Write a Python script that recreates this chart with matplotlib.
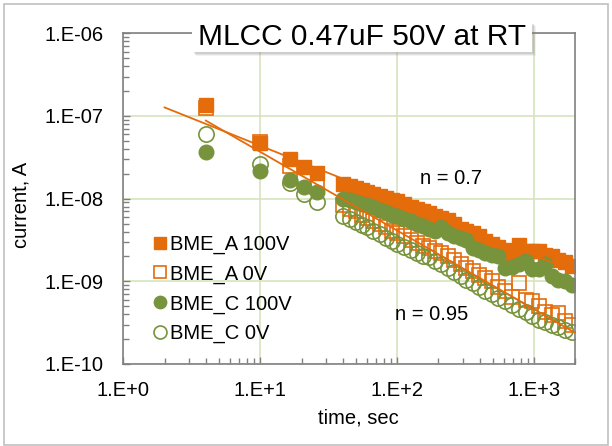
import numpy as np
import matplotlib.pyplot as plt
from matplotlib.patches import Rectangle

plt.rcParams['font.family'] = ['Liberation Sans', 'DejaVu Sans']

# time points, sec
t_early = [4, 10, 16.5, 21, 26]
t_dense = [40, 45, 50, 55, 60, 67, 75, 83, 92, 100, 112, 125, 140, 155, 170,
           190, 210, 235, 260, 290, 320, 355, 395, 440, 490, 545, 610, 690,
           780, 870, 970, 1080, 1200, 1340, 1500, 1680, 1880]
time = t_early + t_dense

# current, A
bme_a_100 = [1.36e-7, 4.7e-8, 3.0e-8, 2.44e-8, 2.03e-8,
             1.50e-8, 1.42e-8, 1.35e-8, 1.28e-8, 1.22e-8, 1.15e-8, 1.08e-8, 1.02e-8,
             9.6e-9, 9.3e-9, 8.6e-9, 8.0e-9, 7.6e-9, 7.1e-9, 6.7e-9, 6.2e-9, 5.9e-9,
             5.5e-9, 5.0e-9, 4.3e-9, 4.1e-9, 3.8e-9, 3.5e-9, 3.1e-9, 2.8e-9, 2.6e-9,
             2.4e-9, 2.15e-9, 2.75e-9, 2.3e-9, 2.35e-9, 2.3e-9, 2.1e-9, 2.0e-9,
             1.8e-9, 1.7e-9, 1.55e-9]
bme_a_0 = [1.24e-7, 4.9e-8, 2.5e-8, 1.71e-8, 1.37e-8,
           8.4e-9, 7.6e-9, 7.0e-9, 6.4e-9, 5.9e-9, 5.4e-9, 4.9e-9, 4.5e-9,
           4.1e-9, 3.8e-9, 3.5e-9, 3.2e-9, 2.9e-9, 2.7e-9, 2.5e-9, 2.35e-9, 2.2e-9,
           2.0e-9, 1.8e-9, 1.6e-9, 1.45e-9, 1.35e-9, 1.2e-9, 1.1e-9, 1.0e-9, 8.5e-10,
           7.6e-10, 6.5e-10, 9.5e-10, 6.0e-10, 5.8e-10, 5.0e-10, 4.3e-10, 3.9e-10,
           4.1e-10, 3.3e-10, 3.0e-10]
bme_c_100 = [3.67e-8, 2.14e-8, 1.66e-8, 1.37e-8, 1.2e-8,
             1.0e-8, 9.5e-9, 9.1e-9, 8.7e-9, 8.4e-9, 7.9e-9, 7.3e-9, 6.9e-9,
             6.4e-9, 6.1e-9, 5.7e-9, 5.4e-9, 5.0e-9, 4.7e-9, 4.3e-9, 4.1e-9, 4.5e-9,
             3.8e-9, 3.5e-9, 3.3e-9, 3.15e-9, 2.5e-9, 2.4e-9, 2.2e-9, 2.1e-9, 2.0e-9,
             1.45e-9, 1.5e-9, 1.6e-9, 1.75e-9, 1.4e-9, 1.4e-9, 1.6e-9, 1.15e-9,
             1.05e-9, 1.0e-9, 9.0e-10]
bme_c_0 = [6.0e-8, 2.6e-8, 1.56e-8, 1.14e-8, 9.1e-9,
           6.1e-9, 5.6e-9, 5.2e-9, 4.8e-9, 4.5e-9, 4.1e-9, 3.7e-9, 3.35e-9,
           3.05e-9, 2.85e-9, 2.6e-9, 2.4e-9, 2.2e-9, 2.05e-9, 1.95e-9, 1.75e-9, 1.6e-9,
           1.45e-9, 1.3e-9, 1.15e-9, 1.05e-9, 9.5e-10, 8.5e-10, 7.7e-10, 7.0e-10, 6.2e-10,
           5.7e-10, 5.1e-10, 4.6e-10, 4.3e-10, 3.8e-10, 3.4e-10, 3.2e-10, 3.0e-10,
           2.8e-10, 2.55e-10, 2.45e-10]

# power law guide lines (end points)
fit1_t = [2, 2000]
fit1_i = [1.27e-7, 1.3e-9]
fit2_t = [4, 2000]
fit2_i = [8.8e-8, 2.37e-10]

xticks = [1, 10, 100, 1000]
xlabels = ['1.E+0', '1.E+1', '1.E+2', '1.E+3']
yticks = [1e-10, 1e-9, 1e-8, 1e-7, 1e-6]
ylabels = ['1.E-10', '1.E-09', '1.E-08', '1.E-07', '1.E-06']

orange = '#E46C0A'
green = '#77933C'
fs = 14.5

fig = plt.figure(figsize=(6.12, 4.46), dpi=100)
ax = fig.add_axes([0.2015, 0.1839, 0.7388, 0.7414])

ax.plot(time, bme_a_100, 's', color=orange, ms=9.5, mec=orange, label='BME_A 100V')
ax.plot(time, bme_a_0, 's', color=orange, ms=9.5, mfc='none', mew=1.2, label='BME_A 0V')
ax.plot(time, bme_c_100, 'o', color=green, ms=10.5, mec=green, label='BME_C 100V')
ax.plot(time, bme_c_0, 'o', color=green, ms=11, mfc='none', mew=1.2, label='BME_C 0V')
ax.plot(fit1_t, fit1_i, '-', color=orange, lw=1.3, zorder=5)
ax.plot(fit2_t, fit2_i, '-', color=orange, lw=1.3, zorder=5)

ax.set_xscale('log')
ax.set_yscale('log')
ax.set_xlim(1, 2000)
ax.set_ylim(1e-10, 1e-6)
ax.set_xticks(xticks, xlabels)
ax.set_yticks(yticks, ylabels)
ax.grid(True, which='major', color='#d7e4bd', lw=1.2)
ax.set_axisbelow(True)
ax.tick_params(which='both', direction='in', color='#808080', labelsize=fs)
ax.tick_params(which='major', length=5, width=1)
ax.tick_params(which='minor', length=4.5, width=1)
ax.tick_params(axis='y', which='major', pad=14)
ax.tick_params(axis='x', which='major', pad=12)
for s in ax.spines.values():
    s.set_color('#808080')
    s.set_linewidth(1.2)

ax.set_xlabel('time, sec', fontsize=fs)
ax.xaxis.set_label_coords(0.52, -0.135)
ax.set_ylabel('current, A', fontsize=fs)
ax.yaxis.set_label_coords(-0.205, 0.48)

ax.legend(loc='upper left', bbox_to_anchor=(0.05, 0.415), frameon=False,
          fontsize=fs, handlelength=0.6, handletextpad=0.2, markerscale=0.85,
          labelspacing=0.52, borderaxespad=0)

# pixel-position texts (figure is 612x446 px)
fig.text(451 / 612, 1 - 178 / 446, 'n = 0.7', fontsize=fs, ha='center', va='center')
fig.text(432 / 612, 1 - 315 / 446, 'n = 0.95', fontsize=fs, ha='center', va='center')

# title box with soft shadow
bx0, bx1, by0, by1 = 192, 532, 22, 52
for k, a in [(4, 0.10), (3, 0.15), (2, 0.2)]:
    fig.add_artist(Rectangle(((bx0 + k) / 612, 1 - (by1 + k) / 446),
                             (bx1 - bx0) / 612, (by1 - by0) / 446,
                             transform=fig.transFigure, fc='#808080', ec='none', alpha=a))
fig.add_artist(Rectangle((bx0 / 612, 1 - by1 / 446), (bx1 - bx0) / 612, (by1 - by0) / 446,
                         transform=fig.transFigure, fc='white', ec='none'))
fig.text((bx0 + bx1) / 2 / 612, 1 - 37 / 446, 'MLCC 0.47uF 50V at RT', fontsize=21.5,
         ha='center', va='center')

# outer frame
fig.add_artist(Rectangle((4 / 612, 1 / 446), 604 / 612, 441 / 446, transform=fig.transFigure,
                         fc='none', ec='#c0c0c0', lw=1.2))

fig.savefig('out.png', dpi=100)
